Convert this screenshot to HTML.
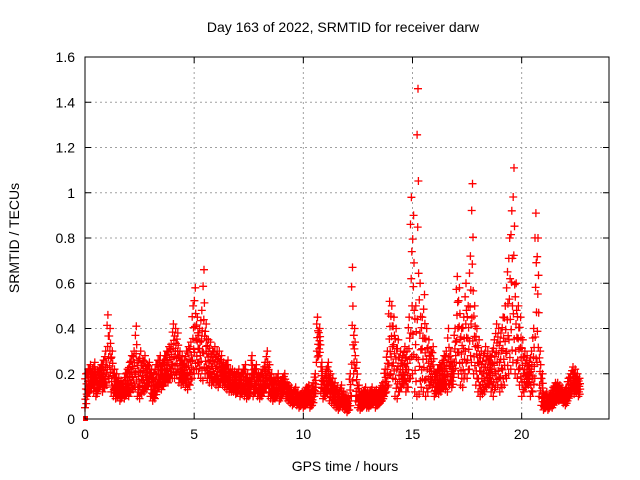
<!DOCTYPE html>
<html><head><meta charset="utf-8"><style>
body{margin:0;background:#fff}
svg{display:block;font-family:"Liberation Sans",sans-serif}
</style></head><body>
<svg id="chart" width="640" height="480">
<text x="343" y="32" font-size="14" text-anchor="middle">Day 163 of 2022, SRMTID for receiver darw</text>
<text x="345" y="471" font-size="14" text-anchor="middle">GPS time / hours</text>
<text transform="translate(19,238) rotate(-90)" font-size="14" text-anchor="middle">SRMTID / TECUs</text>
<g id="grid"></g><g id="ticks"></g><g id="marks"></g>
<rect x="85" y="57" width="524" height="362" fill="none" stroke="#000" stroke-width="1"/>
</svg>
<script>
const xTicks=[0,5,10,15,20];
const yTicks=[0,0.2,0.4,0.6,0.8,1,1.2,1.4,1.6];
const yTickLabels=["0","0.2","0.4","0.6","0.8","1","1.2","1.4","1.6"];
const startHour=0, stepHour=0.1;
const srmtidLow=[.05,.10,.12,.14,.12,.10,.13,.15,.12,.14,
.15,.18,.12,.10,.09,.10,.08,.10,.09,.11,
.10,.12,.13,.14,.10,.09,.11,.12,.13,.15,
.10,.08,.09,.12,.14,.13,.15,.16,.16,.18,
.18,.18,.20,.16,.15,.16,.14,.13,.15,.18,
.20,.22,.20,.18,.17,.20,.18,.16,.15,.16,
.15,.14,.16,.15,.14,.13,.12,.12,.12,.11,
.12,.10,.11,.10,.09,.10,.14,.10,.12,.10,
.09,.10,.12,.14,.10,.09,.08,.09,.10,.08,
.10,.12,.09,.08,.07,.06,.07,.06,.05,.06,
.05,.06,.07,.05,.06,.10,.25,.28,.12,.09,
.10,.12,.08,.07,.06,.05,.04,.06,.05,.04,
.03,.04,.10,.20,.08,.05,.04,.05,.06,.05,
.05,.06,.07,.05,.06,.07,.08,.10,.12,.15,
.20,.18,.10,.09,.12,.14,.15,.12,.14,.18,
.20,.12,.10,.11,.14,.12,.10,.12,.15,.14,
.10,.12,.11,.12,.14,.13,.12,.15,.14,.20,
.25,.20,.15,.14,.20,.18,.22,.25,.20,.15,
.12,.10,.11,.12,.14,.15,.12,.10,.14,.15,
.12,.14,.15,.18,.20,.22,.25,.20,.18,.15,
.10,.12,.14,.15,.10,.12,.18,.25,.10,.06,
.04,.05,.04,.06,.05,.07,.08,.08,.09,.07,
.06,.08,.10,.12,.11,.12,.10];
const srmtidHigh=[.20,.22,.24,.22,.25,.20,.22,.24,.26,.30,
.46,.40,.30,.22,.20,.18,.17,.16,.20,.22,
.25,.28,.30,.41,.26,.30,.26,.28,.24,.25,
.22,.20,.24,.26,.28,.25,.28,.30,.32,.33,
.42,.40,.38,.30,.28,.26,.30,.32,.34,.50,
.58,.45,.40,.48,.66,.42,.35,.34,.30,.32,
.30,.30,.28,.25,.24,.26,.22,.22,.21,.20,
.22,.20,.22,.24,.20,.18,.28,.22,.24,.20,
.20,.22,.25,.30,.24,.20,.18,.18,.20,.16,
.18,.20,.16,.15,.14,.12,.14,.12,.11,.12,
.12,.14,.15,.12,.16,.20,.45,.40,.25,.18,
.22,.25,.20,.18,.16,.14,.12,.15,.12,.10,
.10,.20,.67,.40,.25,.15,.12,.12,.14,.12,
.12,.14,.12,.13,.12,.14,.16,.22,.30,.52,
.50,.45,.40,.35,.30,.28,.32,.30,.45,.98,
.90,.50,1.46,.60,.45,.55,.40,.35,.30,.32,
.20,.22,.24,.25,.28,.30,.40,.30,.25,.40,
.63,.58,.40,.45,.60,.50,.72,1.04,.50,.40,
.35,.30,.28,.32,.30,.28,.30,.35,.42,.40,
.38,.45,.50,.65,.80,.92,1.11,.60,.50,.45,
.35,.30,.28,.25,.30,.40,.91,.80,.30,.20,
.10,.12,.10,.12,.14,.16,.16,.15,.14,.12,
.14,.18,.20,.23,.22,.20,.18];
const NS="http://www.w3.org/2000/svg";
const X0=85,X1=609,Y0=419,Y1=57,XMAX=24,YMAX=1.6;
function xs(h){return X0+(X1-X0)*h/XMAX;}
function ys(v){return Y0-(Y0-Y1)*v/YMAX;}
function mk(tag,attrs,parent){const e=document.createElementNS(NS,tag);for(const k in attrs)e.setAttribute(k,attrs[k]);parent.appendChild(e);return e;}
const grid=document.getElementById('grid'),ticks=document.getElementById('ticks'),marks=document.getElementById('marks');
xTicks.forEach(t=>{const x=xs(t);
 if(t>0){const g=mk('line',{x1:x,x2:x,y1:Y0,y2:Y1,stroke:'#a0a0a0','stroke-dasharray':'2,3'},grid);
 
 }
 mk('line',{x1:x,x2:x,y1:Y0,y2:Y0-6,stroke:'#000'},ticks);
 mk('line',{x1:x,x2:x,y1:Y1,y2:Y1+6,stroke:'#000'},ticks);
 const l=mk('text',{x:x,y:Y0+20,'font-size':14,'text-anchor':'middle'},ticks);l.textContent=t;
 
 
});
yTicks.forEach((v,i)=>{const y=ys(v);
 if(v>0&&v<YMAX){const g=mk('line',{x1:X0,x2:X1,y1:y,y2:y,stroke:'#a0a0a0','stroke-dasharray':'2,3'},grid);
 
 }
 mk('line',{x1:X0,x2:X0+6,y1:y,y2:y,stroke:'#000'},ticks);
 mk('line',{x1:X1,x2:X1-6,y1:y,y2:y,stroke:'#000'},ticks);
 const l=mk('text',{x:X0-10,y:y+5,'font-size':14,'text-anchor':'end'},ticks);l.textContent=yTickLabels[i];
 
 
});
const fr=[0,0.12,0.25,0.4,0.55,0.7,0.85,1],off=[0,0.06,0.02,0.08,0.04,0.07,0.01,0.05];
let d='';
srmtidLow.forEach((lo,i)=>{const hi=srmtidHigh[i];const t=startHour+i*stepHour;
 fr.forEach((f,k)=>{const x=xs(t+off[k]),y=ys(lo+(hi-lo)*f);
  d+=`M${(x-4).toFixed(1)} ${y.toFixed(1)}h8M${x.toFixed(1)} ${(y-4).toFixed(1)}v8`;});
});
const p=mk('path',{d:d,stroke:'#ff0000','stroke-width':1.3,fill:'none'},marks);


const s=mk('rect',{x:xs(0)-2,y:ys(0)-3,width:5,height:5,fill:'#ff0000'},marks);


</script>
</body></html>
